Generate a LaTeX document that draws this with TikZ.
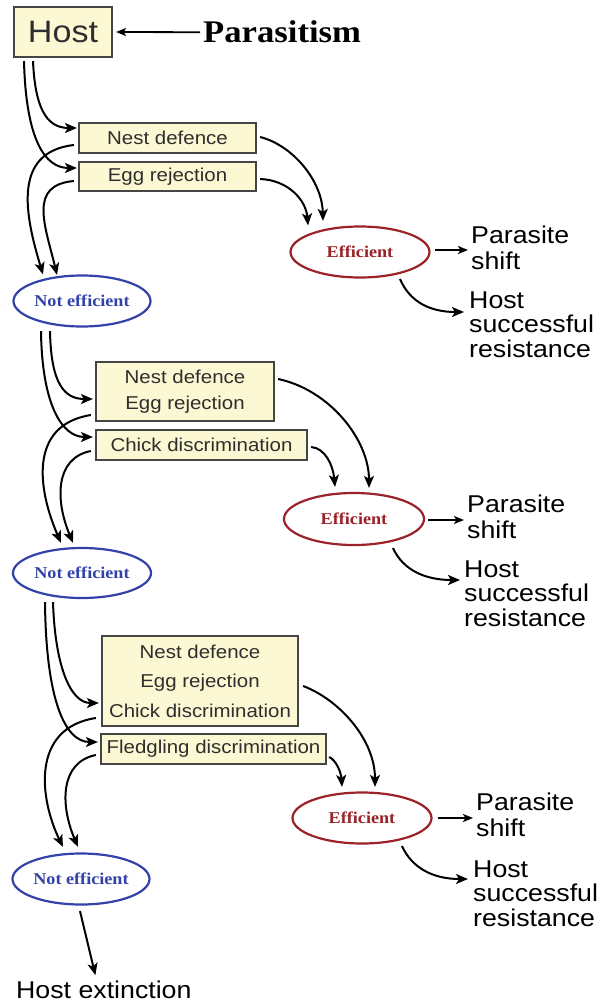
\documentclass[tikz,border=0pt]{standalone}
\usepackage{fontspec}
\newfontfamily\arialf{Liberation Sans}[FakeStretch=1.1]
\newfontfamily\timesf{Liberation Serif}[FakeStretch=1.1]
\usetikzlibrary{arrows.meta,calc,shapes.geometric}
\definecolor{boxfill}{HTML}{FCF8D3}
\definecolor{boxline}{HTML}{454545}
\definecolor{boxtext}{HTML}{2E2E2E}
\definecolor{effred}{HTML}{9A2228}
\definecolor{neblue}{HTML}{3242A8}
\tikzset{
  ybox/.style={draw=boxline, fill=boxfill, line width=2.2pt, inner sep=0pt, text=boxtext,
    font=\arialf\fontsize{18.6}{26}\selectfont, align=center},
  effnode/.style={ellipse, draw=effred, line width=2.2pt, inner sep=0pt, minimum width=139pt,
    minimum height=51pt, text=effred, font=\timesf\bfseries\fontsize{16.5}{16.5}\selectfont},
  nenode/.style={ellipse, draw=neblue, line width=2.2pt, inner sep=0pt, minimum width=137pt,
    minimum height=51pt, text=neblue, font=\timesf\bfseries\fontsize{16.5}{16.5}\selectfont},
  outtext/.style={anchor=base west, inner sep=0pt, font=\arialf\fontsize{24.3}{26}\selectfont},
  arr/.style={-{Stealth[length=12pt,width=10pt,inset=3pt]}, line width=2pt},
  sarr/.style={-{Stealth[length=10pt,width=8pt,inset=2.5pt]}, line width=1.8pt},
}
\begin{document}
\begin{tikzpicture}[x=1pt,y=-1pt]
\useasboundingbox (0,0) rectangle (607,1003);
% ---------- nodes ----------
\node[ybox, minimum width=98pt, minimum height=50pt, font=\arialf\fontsize{31}{31}\selectfont] (host) at (63,32) {Host};
\node[anchor=base west, inner sep=0pt, font=\timesf\bfseries\fontsize{31.5}{31.5}\selectfont] (para) at (203,43) {Parasitism};

\node[ybox, minimum width=177pt, minimum height=30pt] (nd1) at (167.5,138) {Nest defence};
\node[ybox, minimum width=177pt, minimum height=29pt] (er1) at (167.5,176.5) {Egg rejection};
\node[effnode] (eff1) at (360,252) {Efficient};
\node[nenode] (ne1) at (82,301) {Not efficient};
\node[outtext] (ps1) at (471,243) {\begin{tabular}[t]{@{}l@{}}Parasite\\shift\end{tabular}};
\node[outtext, font=\arialf\fontsize{24.3}{24.5}\selectfont] (hsr1) at (469,308) {\begin{tabular}[t]{@{}l@{}}Host\\successful\\resistance\end{tabular}};

\node[ybox, minimum width=178pt, minimum height=59pt] (box2) at (185,391.5) {Nest defence\\Egg rejection};
\node[ybox, minimum width=211pt, minimum height=30pt] (chick2) at (201.5,445) {Chick discrimination};
\node[effnode, minimum width=140pt, minimum height=52pt] (eff2) at (354,519) {Efficient};
\node[nenode, minimum width=138pt, minimum height=50pt] (ne2) at (82,573) {Not efficient};
\node[outtext] (ps2) at (467,512) {\begin{tabular}[t]{@{}l@{}}Parasite\\shift\end{tabular}};
\node[outtext, font=\arialf\fontsize{24.3}{24.5}\selectfont] (hsr2) at (464,577) {\begin{tabular}[t]{@{}l@{}}Host\\successful\\resistance\end{tabular}};

\node[ybox, minimum width=196pt, minimum height=90pt, font=\arialf\fontsize{18.6}{29.5}\selectfont] (box3) at (200,681) {Nest defence\\Egg rejection\\Chick discrimination};
\node[ybox, minimum width=225pt, minimum height=30pt] (fledg3) at (213.5,749) {Fledgling discrimination};
\node[effnode] (eff3) at (362,818) {Efficient};
\node[nenode] (ne3) at (81,879) {Not efficient};
\node[outtext] (ps3) at (476,810) {\begin{tabular}[t]{@{}l@{}}Parasite\\shift\end{tabular}};
\node[outtext, font=\arialf\fontsize{24.3}{24.5}\selectfont] (hsr3) at (473,877) {\begin{tabular}[t]{@{}l@{}}Host\\successful\\resistance\end{tabular}};

\node[outtext] (hext) at (16,998) {Host extinction};

% ---------- connectors ----------
\draw[sarr] ($(para.west)+(-3,0)$) -- ($(host.east)+(3,0)$);

% level 1
\draw[arr] ($(host.south)+(-30,3)$) .. controls (35,105) and (45,128) .. ($(nd1.west)+(-1,-10)$);
\draw[arr] ($(host.south)+(-39,3)$) .. controls (26,140) and (45,168) .. ($(er1.west)+(-1,-8.5)$);
\draw[arr] ($(nd1.west)+(-4,7)$) .. controls (12,152) and (25,215) .. ($(ne1.north)+(-39,0)$);
\draw[arr] ($(er1.west)+(-4,4.5)$) .. controls (28,185) and (45,225) .. ($(ne1.north)+(-25,0.5)$);
\draw[arr] ($(nd1.east)+(3,-1)$) .. controls (292,145) and (322,180) .. ($(eff1.north)+(-37,-4.5)$);
\draw[arr] ($(er1.east)+(3,2.5)$) .. controls (288,180) and (306,200) .. ($(eff1.north)+(-52,0)$);
\coordinate (ps1in) at ($(ps1.base west)+(-3,7)$);
\draw[sarr] ($(eff1.east)+(4,-2)$) -- (ps1in);
\coordinate (hsr1in) at ($(hsr1.base west)+(-5,4)$);
\draw[arr] ($(eff1.south)+(40,0.5)$) .. controls (410,302) and (430,312) .. (hsr1in);

% level 2
\draw[arr] ($(ne1.south)+(-32,3.5)$) .. controls (51,385) and (65,399) .. ($(box2.west)+(-2,7.5)$);
\draw[arr] ($(ne1.south)+(-41,3.5)$) .. controls (42,405) and (62,437) .. ($(chick2.west)+(-2,-8)$);
\draw[arr] ($(box2.west)+(-4,23.5)$) .. controls (28,425) and (38,490) .. ($(ne2.north)+(-21,-4)$);
\draw[arr] ($(chick2.west)+(-4,6)$) .. controls (55,458) and (55,500) .. ($(ne2.north)+(-9,-4)$);
\draw[arr] ($(box2.east)+(3,-12.5)$) .. controls (330,390) and (369,440) .. ($(eff2.north)+(15,-4)$);
\draw[arr] ($(chick2.east)+(3,2)$) .. controls (325,448) and (333,465) .. ($(eff2.north)+(-19,-5)$);
\coordinate (ps2in) at ($(ps2.base west)+(-3,8)$);
\draw[sarr] ($(eff2.east)+(3,1)$) -- (ps2in);
\coordinate (hsr2in) at ($(hsr2.base west)+(-4,3)$);
\draw[arr] ($(eff2.south)+(39,2)$) .. controls (403,570) and (425,580) .. (hsr2in);

% level 3
\draw[arr] ($(ne2.south)+(-29,3)$) .. controls (55,665) and (70,703) .. ($(box3.west)+(-2,22)$);
\draw[arr] ($(ne2.south)+(-37,3)$) .. controls (46,700) and (65,742) .. ($(fledg3.west)+(-2,-7)$);
\draw[arr] ($(box3.west)+(-5,37)$) .. controls (30,728) and (40,800) .. ($(ne3.north)+(-18,-5.5)$);
\draw[arr] ($(fledg3.west)+(-4,6)$) .. controls (60,762) and (60,805) .. ($(ne3.north)+(-3,-5.5)$);
\draw[arr] ($(box3.east)+(4,5)$) .. controls (340,700) and (375,740) .. ($(eff3.north)+(13,-4.5)$);
\draw[arr] ($(fledg3.east)+(2,8)$) .. controls (336,760) and (341,772) .. ($(eff3.north)+(-20,-4.5)$);
\coordinate (ps3in) at ($(ps3.base west)+(-3,8)$);
\draw[sarr] ($(eff3.east)+(5,0)$) -- (ps3in);
\coordinate (hsr3in) at ($(hsr3.base west)+(-5,2)$);
\draw[arr] ($(eff3.south)+(40,1.5)$) .. controls (412,868) and (433,879) .. (hsr3in);

\draw[arr] ($(ne3.south)+(-1,5.5)$) -- ($(hext.north)+(-8.5,-5)$);
\end{tikzpicture}
\end{document}
